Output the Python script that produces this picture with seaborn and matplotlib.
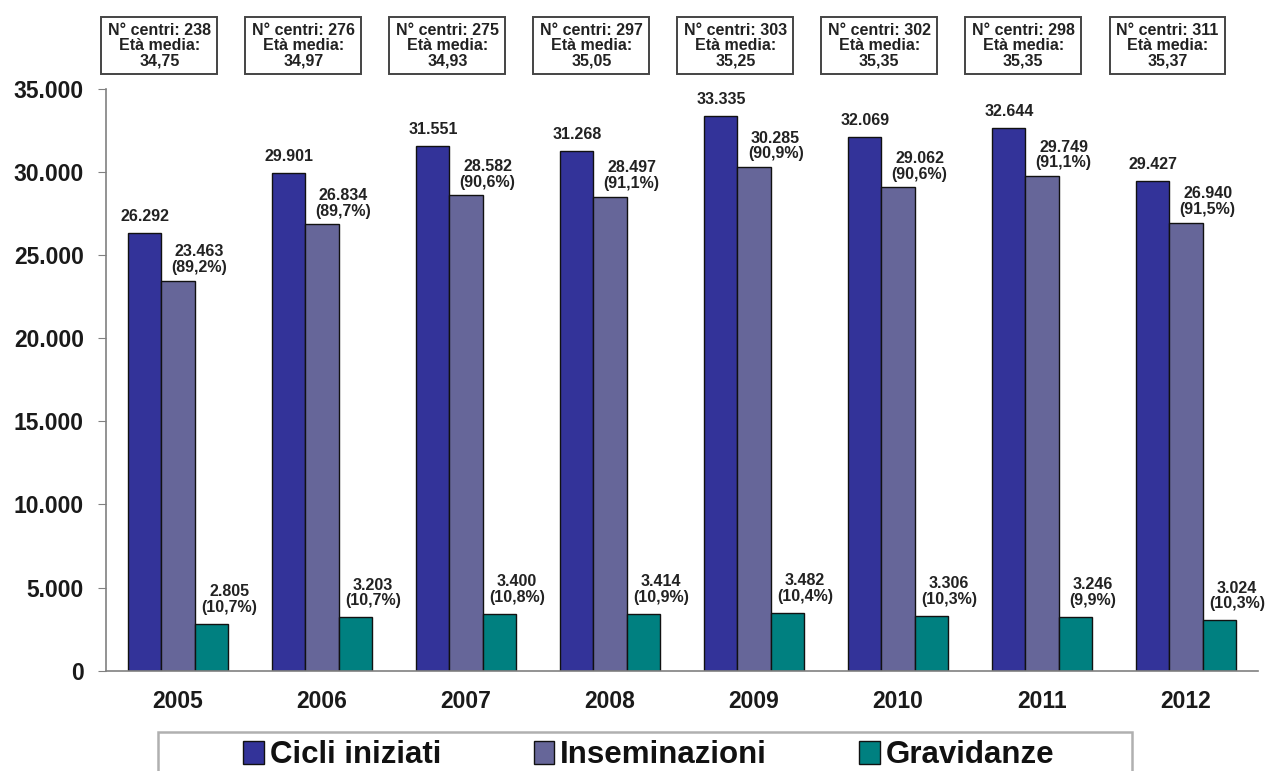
import matplotlib
matplotlib.use("Agg")
import matplotlib.pyplot as plt
from matplotlib.patches import Patch, Rectangle
from matplotlib.ticker import FuncFormatter, FixedLocator
import seaborn as sns
import pandas as pd
import numpy as np

anni = ["2005", "2006", "2007", "2008", "2009", "2010", "2011", "2012"]
cicli = [26292, 29901, 31551, 31268, 33335, 32069, 32644, 29427]
inseminazioni = [23463, 26834, 28582, 28497, 30285, 29062, 29749, 26940]
gravidanze = [2805, 3203, 3400, 3414, 3482, 3306, 3246, 3024]
perc_ins = ["89,2%", "89,7%", "90,6%", "91,1%", "90,9%", "90,6%", "91,1%", "91,5%"]
perc_grav = ["10,7%", "10,7%", "10,8%", "10,9%", "10,4%", "10,3%", "9,9%", "10,3%"]
n_centri = [238, 276, 275, 297, 303, 302, 298, 311]
eta_media = ["34,75", "34,97", "34,93", "35,05", "35,25", "35,35", "35,35", "35,37"]

serie = ["Cicli iniziati", "Inseminazioni", "Gravidanze"]
colori = ["#333399", "#666699", "#008080"]


def fmt_it(v):
    return f"{int(v):,}".replace(",", ".")


df = pd.DataFrame({
    "anno": anni * 3,
    "valore": cicli + inseminazioni + gravidanze,
    "serie": [serie[0]] * 8 + [serie[1]] * 8 + [serie[2]] * 8,
})

sns.set_style("white")
plt.rcParams["font.family"] = ["Liberation Sans", "DejaVu Sans"]

fig = plt.figure(figsize=(12.65, 7.71), dpi=100)
ax = fig.add_axes([0.0838, 0.13, 0.9107, 0.755])

sns.barplot(data=df, x="anno", y="valore", hue="serie", palette=colori, saturation=1,
            edgecolor="#111111", linewidth=1.0, width=0.69, ax=ax, legend=False)

ax.set_ylim(0, 35000)
ax.set_xlim(-0.5, 7.5)
ax.set_xlabel("")
ax.set_ylabel("")
ax.set_yticks(np.arange(0, 35001, 5000))
ax.yaxis.set_major_formatter(FuncFormatter(lambda v, p: fmt_it(v)))
ax.tick_params(axis="y", length=6, color="#808080", labelsize=16.5, pad=10, left=True)
ax.tick_params(axis="x", length=0, labelsize=16.5, pad=14)
ax.xaxis.set_minor_locator(FixedLocator(np.arange(-0.5, 8, 1)))
ax.tick_params(axis="x", which="minor", length=6, color="#808080", direction="out")
for lab in ax.get_xticklabels() + ax.get_yticklabels():
    lab.set_fontweight("bold")
    lab.set_color("#1a1a1a")

for s in ["top", "right"]:
    ax.spines[s].set_visible(False)
for s in ["left", "bottom"]:
    ax.spines[s].set_color("#808080")
    ax.spines[s].set_linewidth(1.2)

# etichette valori
bw = 0.69 / 3
for i in range(len(anni)):
    ax.text(i - bw, cicli[i] + 550, fmt_it(cicli[i]), ha="center", va="bottom",
            fontsize=11.5, fontweight="bold", color="#222222")
    ax.text(i + 0.15, inseminazioni[i] + 350, f"{fmt_it(inseminazioni[i])}\n({perc_ins[i]})",
            ha="center", va="bottom", fontsize=11.5, fontweight="bold", color="#222222",
            linespacing=1.05)
    ax.text(i + bw + 0.125, gravidanze[i] + 550, f"{fmt_it(gravidanze[i])}\n({perc_grav[i]})",
            ha="center", va="bottom", fontsize=11.5, fontweight="bold", color="#222222",
            linespacing=1.05)

# riquadri sopra ogni anno
for i in range(len(anni)):
    ax.text(i - 0.13, 1.074, f"N° centri: {n_centri[i]}\nEtà media:\n{eta_media[i]}",
            transform=ax.get_xaxis_transform(), ha="center", va="center",
            fontsize=11.5, fontweight="bold", color="#222222", linespacing=1.0,
            bbox=dict(boxstyle="square,pad=0.4", facecolor="white",
                      edgecolor="#444444", linewidth=1.4))

# legenda
fig.patches.append(Rectangle((158 / 1265, -0.05), (1132 - 158) / 1265, 0.05 + 39 / 771,
                             transform=fig.transFigure, facecolor="white",
                             edgecolor="#b0b0b0", linewidth=1.8))
handles = [Patch(facecolor=c, edgecolor="#111111", label=s) for s, c in zip(serie, colori)]
leg = fig.legend(handles=handles, loc="center", bbox_to_anchor=(0.513, 16 / 771),
                 ncol=3, frameon=False, handlelength=0.65, handleheight=0.75,
                 handletextpad=0.2, columnspacing=2.95,
                 prop={"weight": "bold", "size": 22.5})
for t in leg.get_texts():
    t.set_color("#111111")

fig.savefig("out.png", dpi=100)
